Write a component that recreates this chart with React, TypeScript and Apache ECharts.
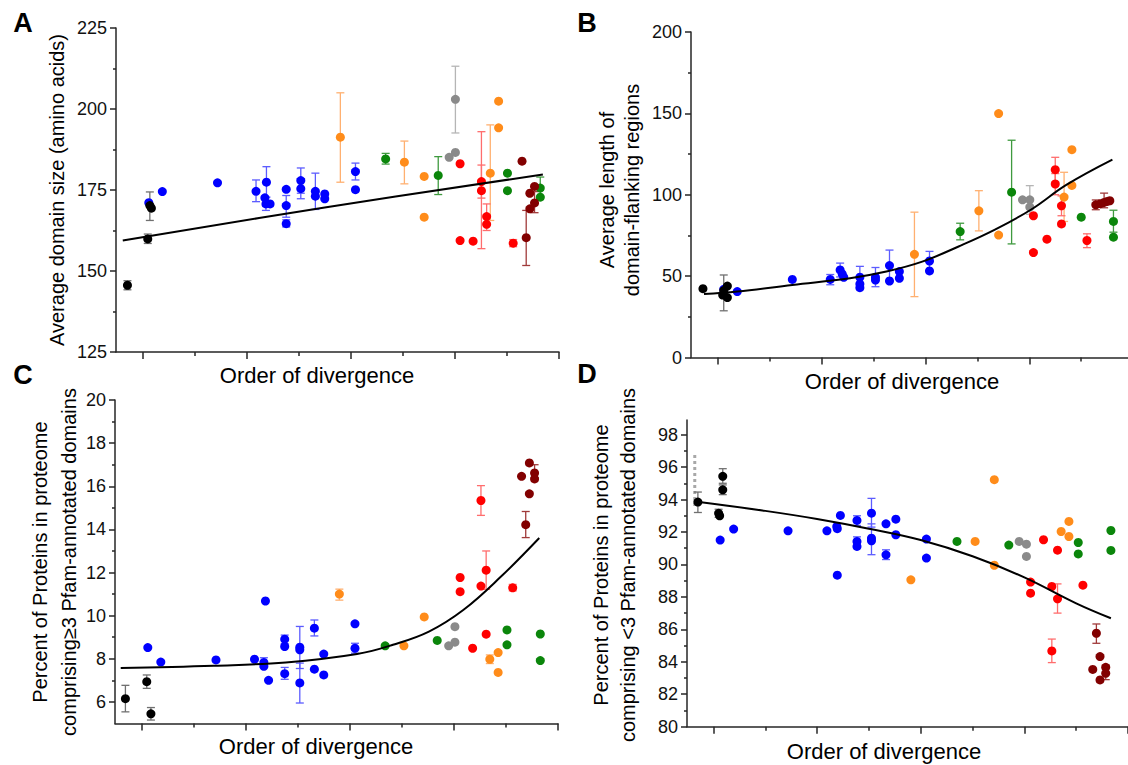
import React, { useEffect, useRef } from "react";
import * as echarts from "echarts";

const FONT = "'Liberation Sans', Arial, Helvetica, sans-serif";

// ---- tick positions (order-of-divergence tick units; 0 = first tick) ----
const xMajorTicks = [0, 2, 4, 6, 8];
const xMinorTicks = [1, 3, 5, 7];

const aYMajor = [125, 150, 175, 200, 225];
const aYMinor = [137.5, 162.5, 187.5, 212.5];
const bYMajor = [0, 50, 100, 150, 200];
const bYMinor = [25, 75, 125, 175];
const cYMajor = [6, 8, 10, 12, 14, 16, 18, 20];
const cYMinor = [7, 9, 11, 13, 15, 17, 19];
const dYMajor = [80, 82, 84, 86, 88, 90, 92, 94, 96, 98];
const dYMinor = [81, 83, 85, 87, 89, 91, 93, 95, 97];

// ---- Panel A: average domain size  [x, y, low, high] ----
const aBlack = [[-0.29, 145.6, 144.2, 147.0], [0.10, 159.9, 158.5, 161.4], [0.14, 170.2, 165.6, 174.4], [0.17, 169.4]];
const aBlue = [[0.12, 171.1], [0.38, 174.5], [1.44, 177.2], [2.18, 174.6, 171.4, 178.1], [2.35, 172.6], [2.38, 177.4, 172.8, 182.2], [2.37, 170.7, 168.7, 172.7], [2.45, 170.7], [2.76, 175.2], [2.76, 170.2, 166.6, 173.3], [2.76, 164.6, 163.6, 165.8], [3.04, 177.9, 174.0, 181.8], [3.04, 175.4, 172.3, 178.5], [3.32, 174.6, 169.0, 180.2], [3.32, 173.1], [3.50, 173.8], [3.50, 172.3], [4.09, 180.7, 178.1, 183.3], [4.09, 175.1]];
const aOrange = [[3.80, 191.3, 177.4, 205.0], [5.03, 183.6, 176.9, 190.1], [5.41, 179.2], [5.41, 166.6], [6.68, 180.2, 165.6, 195.1], [6.84, 202.4], [6.84, 194.2]];
const aGreen = [[4.67, 184.6, 183.0, 186.3], [5.68, 179.5, 173.6, 185.3], [7.01, 180.2], [7.01, 174.8], [7.64, 175.6, 173.0, 179.0], [7.64, 172.8]];
const aGray = [[5.89, 185.1], [6.01, 186.6], [6.01, 203.0, 192.6, 213.2]];
const aRed = [[6.10, 183.1], [6.10, 159.4], [6.35, 159.2], [6.51, 177.6, 172.5, 182.7], [6.51, 174.8, 156.9, 193.0], [6.61, 166.8, 162.5, 170.7], [6.61, 164.4], [7.12, 158.6, 157.5, 159.7]];
const aMaroon = [[7.29, 183.9], [7.37, 160.3, 151.7, 168.7], [7.44, 174.0], [7.44, 169.2], [7.53, 176.1], [7.53, 171.0, 168.0, 174.5]];
const aFit = [[-0.38, 159.4], [3.5, 169.6], [7.69, 179.8]];

// ---- Panel B: average length of domain-flanking regions ----
const bBlack = [[-0.28, 42.3], [0.12, 41.1, 28.7, 50.7], [0.10, 38.4], [0.19, 43.9], [0.19, 36.8]];
const bBlue = [[0.12, 41.9], [0.38, 40.5], [1.44, 48.0], [2.17, 48.0, 44.7, 51.0], [2.36, 53.8, 49.5, 58.0], [2.40, 51.3], [2.43, 49.3], [2.74, 49.3, 43.0, 56.0], [2.74, 45.2], [2.74, 42.9], [3.04, 49.3, 43.5, 55.3], [3.04, 47.6], [3.31, 56.5, 47.0, 66.0], [3.31, 47.0], [3.50, 52.8], [3.50, 48.7], [4.08, 59.3, 53.5, 65.2], [4.08, 53.2]];
const bOrange = [[3.79, 63.4, 37.4, 89.3], [5.03, 90.1, 77.8, 102.5], [5.41, 149.9], [5.41, 75.2], [6.67, 98.6, 83.6, 113.8], [6.82, 127.7], [6.82, 105.7]];
const bGreen = [[4.67, 77.4, 72.3, 82.5], [5.66, 101.6, 69.8, 133.5], [7.00, 86.2], [7.62, 83.6, 77.0, 90.5], [7.62, 73.9]];
const bGray = [[5.87, 96.9], [6.01, 96.9, 88.0, 105.6], [6.01, 92.4]];
const bRed = [[6.08, 87.1], [6.08, 64.5], [6.34, 72.7], [6.50, 115.4, 107.8, 123.0], [6.50, 106.6, 100.0, 113.0], [6.62, 93.2, 87.1, 99.3], [6.62, 82.1], [7.11, 71.9, 67.5, 76.0]];
const bMaroon = [[7.28, 93.8, 90.8, 96.8], [7.37, 94.5], [7.44, 95.3, 92.0, 101.0], [7.50, 95.9], [7.55, 96.3]];
const bFit = [[-0.26, 39.0], [0.38, 40.5], [1.44, 44.6], [2.55, 48.7], [3.25, 52.8], [3.94, 58.9], [4.64, 68.2], [5.33, 78.4], [6.03, 90.8], [6.72, 106.2], [7.60, 121.6]];

// ---- Panel C: percent of proteins with >=3 Pfam domains ----
const cBlack = [[-0.31, 6.15, 5.54, 6.77], [0.10, 6.94, 6.63, 7.25], [0.18, 5.45, 5.16, 5.74]];
const cBlue = [[0.12, 8.52], [0.37, 7.85], [1.43, 7.95], [2.17, 7.98], [2.35, 7.83, 7.6, 8.05], [2.35, 7.65], [2.38, 10.68], [2.44, 7.0], [2.75, 8.91, 8.7, 9.1], [2.75, 8.57], [2.75, 7.31, 7.05, 7.6], [3.04, 8.54, 7.55, 9.5], [3.04, 8.42], [3.04, 6.88, 5.95, 7.8], [3.32, 9.42, 9.06, 9.8], [3.32, 7.52], [3.50, 8.22], [3.50, 7.25], [4.10, 9.62], [4.10, 8.49, 8.26, 8.72]];
const cOrange = [[3.80, 11.0, 10.72, 11.23], [5.04, 8.6], [5.43, 9.94], [6.69, 7.98, 7.78, 8.18], [6.85, 8.29], [6.85, 7.37]];
const cGreen = [[4.68, 8.6], [5.68, 8.85], [7.02, 9.34], [7.02, 8.65], [7.66, 9.15], [7.66, 7.92]];
const cGray = [[5.90, 8.6], [6.02, 9.49], [6.02, 8.77]];
const cRed = [[6.12, 11.77], [6.12, 11.11], [6.36, 8.49], [6.52, 15.34, 14.65, 16.03], [6.52, 11.37], [6.62, 12.11, 11.22, 13.0], [6.62, 9.14], [7.13, 11.29, 11.15, 11.45]];
const cMaroon = [[7.30, 16.46], [7.38, 14.22, 13.62, 14.83], [7.45, 17.08], [7.45, 15.65], [7.55, 16.62, 16.4, 17.0], [7.55, 16.34]];
const cFit = [[-0.40, 7.57], [1.39, 7.68], [2.77, 7.83], [4.14, 8.22], [4.83, 8.65], [5.52, 9.26], [6.18, 10.26], [6.90, 11.8], [7.64, 13.6]];

// ---- Panel D: percent of proteins with <3 Pfam domains ----
const dBlack = [[-0.30, 93.84, 93.2, 94.46], [0.10, 93.15, 92.9, 93.4], [0.12, 93.0], [0.18, 95.43, 95.0, 95.9], [0.18, 94.6, 94.3, 94.9]];
const dBlue = [[0.13, 91.5], [0.39, 92.18], [1.44, 92.07], [2.19, 92.07], [2.38, 92.34], [2.39, 92.2], [2.39, 89.34], [2.45, 93.02], [2.77, 92.71, 92.4, 93.0], [2.77, 91.42, 91.1, 91.7], [2.77, 91.11], [3.05, 93.16, 92.3, 94.07], [3.05, 91.62, 90.6, 92.5], [3.05, 91.46], [3.33, 92.5], [3.33, 90.59, 90.3, 90.9], [3.52, 92.79], [3.52, 91.83], [4.11, 91.56], [4.11, 90.39]];
const dOrange = [[3.81, 89.05], [5.05, 91.42], [5.42, 95.22], [5.42, 89.95], [6.71, 92.03], [6.86, 92.65], [6.86, 91.72]];
const dGreen = [[4.70, 91.42], [5.70, 91.19], [7.04, 91.35], [7.04, 90.65], [7.67, 92.09], [7.67, 90.86]];
const dGray = [[5.90, 91.42], [6.04, 91.25], [6.04, 90.49]];
const dRed = [[6.12, 88.91], [6.12, 88.23], [6.37, 91.52], [6.53, 88.64], [6.53, 84.67, 83.95, 85.4], [6.64, 90.88], [6.64, 87.88, 87.0, 88.8], [7.13, 88.72]];
const dMaroon = [[7.32, 83.53], [7.39, 85.76, 85.14, 86.33], [7.46, 84.32], [7.46, 82.88], [7.57, 83.66], [7.57, 83.29, 82.9, 83.8]];
const dFit = [[-0.35, 93.88], [1.0, 93.3], [2.0, 92.8], [3.0, 92.2], [4.0, 91.5], [5.0, 90.5], [6.0, 89.2], [7.0, 87.6], [7.67, 86.68]];
const dDotted = [[-0.36, 93.6], [-0.36, 96.9]];

// ---- styles (group order: blue, orange, green, gray, red, maroon, black drawn last) ----
const groupColors = ["#0000ff", "#ff8c1a", "#0b860b", "#8a8a8a", "#ff0000", "#820000", "#000000"];
const errColors = ["#5c5cff", "#ffb070", "#3f9a3f", "#b5b5b5", "#ff6d6d", "#a03a3a", "#707070"];

const panels = [
  { groups: [aBlue, aOrange, aGreen, aGray, aRed, aMaroon, aBlack], fit: aFit, yMajor: aYMajor, yMinor: aYMinor, ymin: 125, ymax: 225, xmax: 8, grid: { left: 116, top: 28, width: 443, height: 324 } },
  { groups: [bBlue, bOrange, bGreen, bGray, bRed, bMaroon, bBlack], fit: bFit, yMajor: bYMajor, yMinor: bYMinor, ymin: 0, ymax: 200, xmax: 7.9, grid: { left: 691, top: 32, width: 437, height: 325.5 } },
  { groups: [cBlue, cOrange, cGreen, cGray, cRed, cMaroon, cBlack], fit: cFit, yMajor: cYMajor, yMinor: cYMinor, ymin: 5, ymax: 20, xmax: 8, grid: { left: 115, top: 400, width: 443, height: 323.5 } },
  { groups: [dBlue, dOrange, dGreen, dGray, dRed, dMaroon, dBlack], fit: dFit, yMajor: dYMajor, yMinor: dYMinor, ymin: 80, ymax: 98.9, xmax: 8, grid: { left: 687, top: 420, width: 441, height: 306.7 } },
];

const AXIS_COLOR = "#262626";

function buildOption() {
  const grid: any[] = [];
  const xAxis: any[] = [];
  const yAxis: any[] = [];
  const series: any[] = [];

  panels.forEach((p) => {
    grid.push({ ...p.grid, containLabel: false });
  });
  // main axes 0..3, minor-tick axes 4..7
  panels.forEach((p, i) => {
    xAxis.push({
      type: "value", gridIndex: i, position: "bottom", min: -0.51, max: p.xmax,
      axisLine: { show: true, onZero: false, lineStyle: { color: AXIS_COLOR, width: 1.5 } },
      axisTick: { show: true, customValues: xMajorTicks, length: 7, lineStyle: { color: AXIS_COLOR, width: 1.5 } },
      axisLabel: { show: false }, splitLine: { show: false },
    });
    yAxis.push({
      type: "value", gridIndex: i, position: "left", min: p.ymin, max: p.ymax,
      axisLine: { show: true, onZero: false, lineStyle: { color: AXIS_COLOR, width: 1.5 } },
      axisTick: { show: true, customValues: p.yMajor, length: 6, lineStyle: { color: AXIS_COLOR, width: 1.5 } },
      axisLabel: { show: true, customValues: p.yMajor, fontSize: 18, fontFamily: FONT, color: "#111", margin: 9 },
      splitLine: { show: false },
    });
  });
  panels.forEach((p, i) => {
    xAxis.push({
      type: "value", gridIndex: i, position: "bottom", min: -0.51, max: p.xmax,
      axisLine: { show: false, onZero: false },
      axisTick: { show: true, customValues: xMinorTicks, length: 4, lineStyle: { color: AXIS_COLOR, width: 1.5 } },
      axisLabel: { show: false }, splitLine: { show: false },
    });
    yAxis.push({
      type: "value", gridIndex: i, position: "left", min: p.ymin, max: p.ymax,
      axisLine: { show: false, onZero: false },
      axisTick: { show: true, customValues: p.yMinor, length: 3, lineStyle: { color: AXIS_COLOR, width: 1.5 } },
      axisLabel: { show: false }, splitLine: { show: false },
    });
  });

  panels.forEach((p, i) => {
    p.groups.forEach((g, gi) => {
      const errData = g.filter((d) => d.length >= 4).map((d) => [d[0], d[2], d[3]]);
      const ec = errColors[gi];
      if (errData.length) {
        series.push({
          type: "custom", xAxisIndex: i, yAxisIndex: i, z: 2,
          data: errData,
          encode: { x: 0, y: [1, 2] },
          renderItem: (params: any, api: any) => {
            const x = api.value(0);
            const p1 = api.coord([x, api.value(1)]);
            const p2 = api.coord([x, api.value(2)]);
            const w = 4;
            const st = { stroke: ec, lineWidth: 1.3 };
            return {
              type: "group",
              children: [
                { type: "line", shape: { x1: p1[0], y1: p1[1], x2: p2[0], y2: p2[1] }, style: st },
                { type: "line", shape: { x1: p1[0] - w, y1: p1[1], x2: p1[0] + w, y2: p1[1] }, style: st },
                { type: "line", shape: { x1: p2[0] - w, y1: p2[1], x2: p2[0] + w, y2: p2[1] }, style: st },
              ],
            };
          },
        });
      }
      series.push({
        type: "scatter", xAxisIndex: i, yAxisIndex: i, z: 3,
        symbol: "circle", symbolSize: 9,
        itemStyle: { color: groupColors[gi], opacity: 1 },
        data: g.map((d) => [d[0], d[1]]),
      });
    });
    series.push({
      type: "line", xAxisIndex: i, yAxisIndex: i, z: 4,
      smooth: 0.4, symbol: "none",
      lineStyle: { color: "#000", width: 2 },
      data: p.fit,
    });
  });

  series.push({
    type: "line", xAxisIndex: 3, yAxisIndex: 3, z: 1, symbol: "none",
    lineStyle: { color: "#a8a8a8", width: 3, type: [3, 3], cap: "butt" },
    data: dDotted,
  });

  const t = (text: string, x: number, y: number, size: number, opts: any = {}) => ({
    type: "text", x, y, rotation: opts.rotation || 0, z: 10,
    style: {
      text, fill: "#000", font: `${opts.bold ? "bold " : ""}${size}px ${FONT}`,
      textAlign: "center", textVerticalAlign: "middle", align: "center", verticalAlign: "middle",
    },
  });
  const R = Math.PI / 2;
  const graphic = [
    t("A", 23, 23, 27, { bold: true }),
    t("B", 587, 23, 27, { bold: true }),
    t("C", 23, 375, 27, { bold: true }),
    t("D", 587, 374, 27, { bold: true }),
    t("Average domain size (amino acids)", 57, 190, 20, { rotation: R }),
    t("Average length of", 607, 190, 20, { rotation: R }),
    t("domain-flanking regions", 632, 190, 20, { rotation: R }),
    t("Percent of Proteins in proteome", 40, 562, 20, { rotation: R }),
    t("comprising\u22653 Pfam-annotated domains", 69, 562, 20, { rotation: R }),
    t("Percent of Proteins in proteome", 601, 565, 20, { rotation: R }),
    t("comprising <3 Pfam-annotated domains", 628, 565, 20, { rotation: R }),
    t("Order of divergence", 317, 375, 22),
    t("Order of divergence", 902, 381, 22),
    t("Order of divergence", 316, 746, 22),
    t("Order of divergence", 884, 751, 22),
  ];

  return { animation: false, backgroundColor: "#ffffff", grid, xAxis, yAxis, series, graphic };
}

export default function App() {
  const ref = useRef<HTMLDivElement>(null);
  useEffect(() => {
    if (!ref.current) return;
    const chart = echarts.init(ref.current, undefined, { renderer: "svg" });
    chart.setOption(buildOption() as any);
    return () => chart.dispose();
  }, []);
  return (
    <div
      ref={ref}
      style={{ position: "fixed", left: 0, top: 0, width: 1128, height: 765, background: "#fff" }}
    />
  );
}
